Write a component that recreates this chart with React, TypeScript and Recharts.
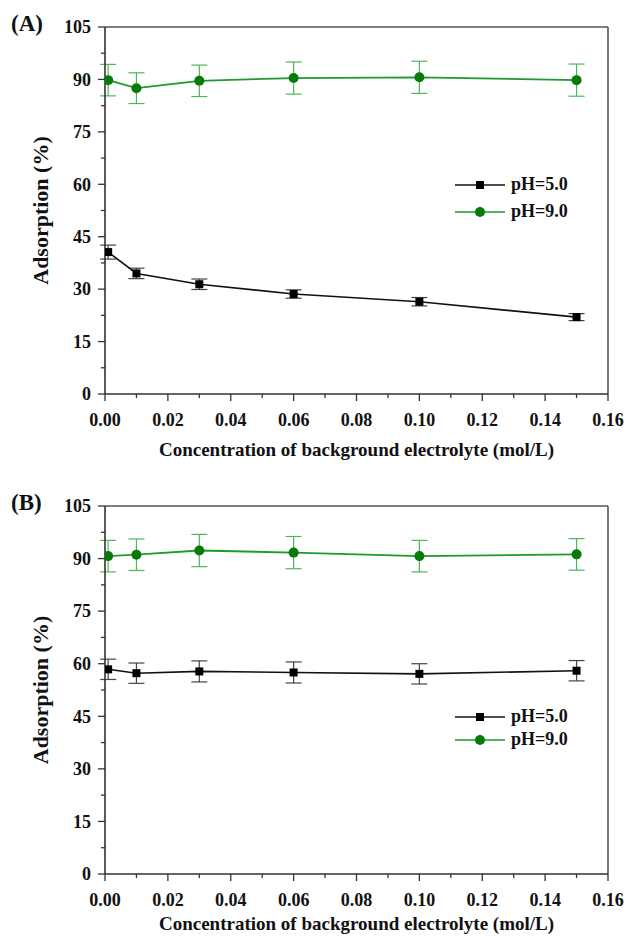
import React from 'react';
import { LineChart, Line, XAxis, YAxis, ErrorBar, ReferenceLine, Legend } from 'recharts';

const concentration = [0.001, 0.01, 0.03, 0.06, 0.1, 0.15];

const aPh5 = [40.6, 34.5, 31.4, 28.6, 26.4, 22.0];
const aPh5Err = [2.0, 1.5, 1.5, 1.2, 1.2, 1.0];
const aPh9 = [89.8, 87.5, 89.6, 90.4, 90.6, 89.8];
const aPh9Err = [4.5, 4.4, 4.5, 4.6, 4.6, 4.6];

const bPh5 = [58.4, 57.3, 57.8, 57.5, 57.1, 58.0];
const bPh5Err = [2.9, 2.9, 3.0, 3.0, 2.9, 2.9];
const bPh9 = [90.7, 91.1, 92.3, 91.7, 90.7, 91.2];
const bPh9Err = [4.5, 4.5, 4.6, 4.6, 4.5, 4.5];

const xTicks = [0, 0.01, 0.02, 0.03, 0.04, 0.05, 0.06, 0.07, 0.08, 0.09, 0.1, 0.11, 0.12, 0.13, 0.14, 0.15, 0.16];
const yTicks = [0, 7.5, 15, 22.5, 30, 37.5, 45, 52.5, 60, 67.5, 75, 82.5, 90, 97.5, 105];

const seriesNames = ['pH=5.0', 'pH=9.0'];

const FONT = '"Liberation Serif", "Times New Roman", serif';
const AXIS = '#333';
const GREEN_LINE = '#1e9a30';
const GREEN_DOT = '#087a0a';
const GREEN_ERR = '#4cb85a';

const toRows = (ys: number[], errs: number[]) =>
  concentration.map((x, i) => ({ x, y: ys[i], err: errs[i] }));

const XTick = (props: any) => {
  const { x, y, payload } = props;
  const v = payload.value as number;
  const major = Math.round(v * 100) % 2 === 0;
  return (
    <g>
      <line x1={x} x2={x} y1={y} y2={y + (major ? 7 : 4)} stroke={AXIS} strokeWidth={1.3} />
      {major && (
        <text x={x} y={y + 32} textAnchor="middle" fontFamily={FONT} fontWeight="bold" fontSize={18} fill="#111">
          {v.toFixed(2)}
        </text>
      )}
    </g>
  );
};

const YTick = (props: any) => {
  const { x, y, payload } = props;
  const v = payload.value as number;
  const major = v % 15 === 0;
  return (
    <g>
      <line x1={x - (major ? 7 : 4)} x2={x} y1={y} y2={y} stroke={AXIS} strokeWidth={1.3} />
      {major && (
        <text x={x - 14} y={y} dy="0.35em" textAnchor="end" fontFamily={FONT} fontWeight="bold" fontSize={18} fill="#111">
          {v}
        </text>
      )}
    </g>
  );
};

const squareDot = (props: any) => {
  const { cx, cy, index } = props;
  return <rect key={`sq-${index}`} x={cx - 4} y={cy - 4} width={8} height={8} fill="#000" />;
};

const LegendBox = ({ rowH }: { rowH: number }) => (
  <div style={{ fontFamily: FONT, fontWeight: 'bold', fontSize: 18, color: '#111' }}>
    {seriesNames.map((name, i) => (
      <div key={name} style={{ display: 'flex', alignItems: 'center', height: rowH }}>
        <svg width={52} height={14} style={{ marginRight: 4 }}>
          <line x1={0} x2={50} y1={7} y2={7} stroke={i === 0 ? '#111' : GREEN_LINE} strokeWidth={1.6} />
          {i === 0 ? (
            <rect x={21} y={3} width={8} height={8} fill="#000" />
          ) : (
            <circle cx={25} cy={7} r={5} fill={GREEN_DOT} />
          )}
        </svg>
        <span>{name}</span>
      </div>
    ))}
  </div>
);

interface PanelProps {
  tag: string;
  top: number;
  bottomSpace: number;
  titleDy: number;
  ph5: number[];
  ph5Err: number[];
  ph9: number[];
  ph9Err: number[];
  legendTop: number;
  legendRow: number;
}

const Panel: React.FC<PanelProps> = ({ tag, top, bottomSpace, titleDy, ph5, ph5Err, ph9, ph9Err, legendTop, legendRow }) => {
  const h = 468;
  return (
    <div style={{ position: 'absolute', left: 0, top: 0, width: 626, height: h }}>
      <div
        style={{
          position: 'absolute', left: 11, top: top - 16, fontFamily: FONT, fontWeight: 'bold', fontSize: 23, color: '#111',
        }}
      >
        {tag}
      </div>
      <LineChart width={626} height={h} margin={{ top, right: 18, left: 45, bottom: 0 }}>
        <XAxis
          dataKey="x"
          type="number"
          domain={[0, 0.16]}
          ticks={xTicks}
          interval={0}
          height={bottomSpace}
          tickLine={false}
          tickSize={0}
          tickMargin={0}
          tick={<XTick />}
          axisLine={{ stroke: AXIS, strokeWidth: 1.6 }}
          allowDataOverflow
          label={{
            content: (p: any) => {
              const vb = p.viewBox;
              return (
                <text x={vb.x + vb.width / 2} y={vb.y + titleDy} textAnchor="middle" fontFamily={FONT} fontWeight="bold" fontSize={19} fill="#111">
                  Concentration of background electrolyte (mol/L)
                </text>
              );
            },
          }}
        />
        <YAxis
          type="number"
          domain={[0, 105]}
          ticks={yTicks}
          interval={0}
          width={60}
          tickLine={false}
          tickSize={0}
          tickMargin={0}
          tick={<YTick />}
          axisLine={{ stroke: AXIS, strokeWidth: 1.6 }}
          label={{
            content: (p: any) => {
              const vb = p.viewBox;
              const cy = vb.y + vb.height / 2;
              return (
                <text x={40} y={cy} transform={`rotate(-90, 40, ${cy})`} dy="0.35em" textAnchor="middle" fontFamily={FONT} fontWeight="bold" fontSize={22} fill="#111">
                  Adsorption (%)
                </text>
              );
            },
          }}
        />
        <ReferenceLine y={105} stroke="#555" strokeWidth={1.6} />
        <ReferenceLine x={0.16} stroke="#555" strokeWidth={1.6} />
        <Line
          data={toRows(ph5, ph5Err)}
          dataKey="y"
          name={seriesNames[0]}
          type="linear"
          stroke="#111"
          strokeWidth={1.6}
          dot={squareDot}
          activeDot={false}
          isAnimationActive={false}
        >
          <ErrorBar dataKey="err" direction="y" width={8} stroke="#444" strokeWidth={1.2} />
        </Line>
        <Line
          data={toRows(ph9, ph9Err)}
          dataKey="y"
          name={seriesNames[1]}
          type="linear"
          stroke={GREEN_LINE}
          strokeWidth={1.8}
          dot={{ r: 5, fill: GREEN_DOT, stroke: GREEN_DOT, strokeWidth: 0 }}
          activeDot={false}
          isAnimationActive={false}
        >
          <ErrorBar dataKey="err" direction="y" width={8} stroke={GREEN_ERR} strokeWidth={1.2} />
        </Line>
        <Legend
          verticalAlign="middle"
          align="center"
          layout="vertical"
          wrapperStyle={{ left: 455, top: legendTop, width: 150 }}
          content={() => <LegendBox rowH={legendRow} />}
        />
      </LineChart>
    </div>
  );
};

const App: React.FC = () => (
  <div style={{ position: 'absolute', left: 0, top: 0, width: 626, height: 936, background: '#fff' }}>
    <div style={{ position: 'absolute', left: 0, top: 0 }}>
      <Panel tag="(A)" top={27} bottomSpace={74} titleDy={62} ph5={aPh5} ph5Err={aPh5Err} ph9={aPh9} ph9Err={aPh9Err} legendTop={171} legendRow={27} />
    </div>
    <div style={{ position: 'absolute', left: 0, top: 468 }}>
      <Panel tag="(B)" top={38} bottomSpace={62} titleDy={56} ph5={bPh5} ph5Err={bPh5Err} ph9={bPh9} ph9Err={bPh9Err} legendTop={237} legendRow={23} />
    </div>
  </div>
);

export default App;
